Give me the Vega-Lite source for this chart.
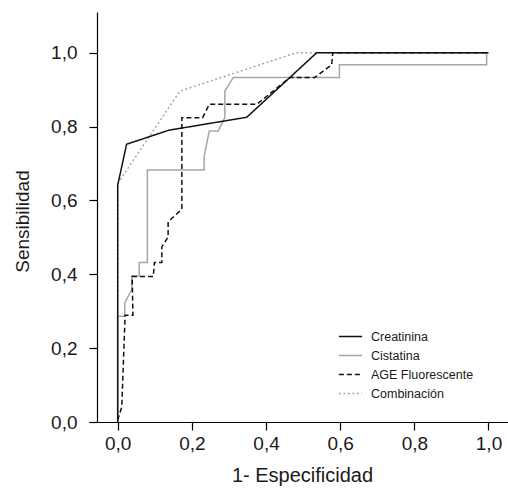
{
  "$schema": "https://vega.github.io/schema/vega-lite/v6.json",
  "width": 419,
  "height": 410,
  "autosize": "none",
  "padding": {"left": 89, "top": 12, "right": 0, "bottom": 66},
  "background": "white",
  "config": {
    "view": {"stroke": null},
    "font": "Liberation Sans",
    "axis": {
      "grid": false,
      "domainColor": "#000000",
      "domainWidth": 1.2,
      "tickColor": "#000000",
      "tickWidth": 1.2,
      "tickSize": 8,
      "labelFont": "Liberation Sans",
      "labelFontSize": 19,
      "labelColor": "#1a1a1a",
      "labelFlush": false,
      "labelOverlap": false,
      "titleFont": "Liberation Sans",
      "titleFontSize": 19,
      "titleFontWeight": "normal",
      "titleColor": "#1a1a1a"
    },
    "legend": {
      "orient": "none",
      "legendX": 249,
      "legendY": 312,
      "labelFont": "Liberation Sans",
      "labelFontSize": 12.5,
      "labelColor": "#1a1a1a",
      "symbolType": "stroke",
      "symbolSize": 540,
      "symbolStrokeWidth": 1.5,
      "labelOffset": 8,
      "rowPadding": 0,
      "padding": 0
    }
  },
  "data": {
    "values": [
      {"s": "Combinación", "i": 0, "x": 0, "y": 0},
      {"s": "Combinación", "i": 1, "x": 0, "y": 0.646},
      {"s": "Combinación", "i": 2, "x": 0.168, "y": 0.896},
      {"s": "Combinación", "i": 3, "x": 0.483, "y": 1.0},
      {"s": "Combinación", "i": 4, "x": 1.0, "y": 1.0},

      {"s": "Cistatina", "i": 0, "x": 0, "y": 0},
      {"s": "Cistatina", "i": 1, "x": 0, "y": 0.286},
      {"s": "Cistatina", "i": 2, "x": 0.019, "y": 0.286},
      {"s": "Cistatina", "i": 3, "x": 0.019, "y": 0.322},
      {"s": "Cistatina", "i": 4, "x": 0.038, "y": 0.359},
      {"s": "Cistatina", "i": 5, "x": 0.038, "y": 0.395},
      {"s": "Cistatina", "i": 6, "x": 0.058, "y": 0.395},
      {"s": "Cistatina", "i": 7, "x": 0.058, "y": 0.432},
      {"s": "Cistatina", "i": 8, "x": 0.080, "y": 0.432},
      {"s": "Cistatina", "i": 9, "x": 0.080, "y": 0.682},
      {"s": "Cistatina", "i": 10, "x": 0.233, "y": 0.682},
      {"s": "Cistatina", "i": 11, "x": 0.233, "y": 0.718},
      {"s": "Cistatina", "i": 12, "x": 0.247, "y": 0.788},
      {"s": "Cistatina", "i": 13, "x": 0.271, "y": 0.788},
      {"s": "Cistatina", "i": 14, "x": 0.289, "y": 0.824},
      {"s": "Cistatina", "i": 15, "x": 0.289, "y": 0.896},
      {"s": "Cistatina", "i": 16, "x": 0.312, "y": 0.933},
      {"s": "Cistatina", "i": 17, "x": 0.598, "y": 0.933},
      {"s": "Cistatina", "i": 18, "x": 0.598, "y": 0.967},
      {"s": "Cistatina", "i": 19, "x": 0.995, "y": 0.967},
      {"s": "Cistatina", "i": 20, "x": 0.995, "y": 1.0},

      {"s": "AGE Fluorescente", "i": 0, "x": 0, "y": 0.005},
      {"s": "AGE Fluorescente", "i": 1, "x": 0.011, "y": 0.041},
      {"s": "AGE Fluorescente", "i": 2, "x": 0.020, "y": 0.289},
      {"s": "AGE Fluorescente", "i": 3, "x": 0.041, "y": 0.289},
      {"s": "AGE Fluorescente", "i": 4, "x": 0.039, "y": 0.394},
      {"s": "AGE Fluorescente", "i": 5, "x": 0.096, "y": 0.394},
      {"s": "AGE Fluorescente", "i": 6, "x": 0.099, "y": 0.432},
      {"s": "AGE Fluorescente", "i": 7, "x": 0.119, "y": 0.432},
      {"s": "AGE Fluorescente", "i": 8, "x": 0.119, "y": 0.474},
      {"s": "AGE Fluorescente", "i": 9, "x": 0.136, "y": 0.501},
      {"s": "AGE Fluorescente", "i": 10, "x": 0.136, "y": 0.542},
      {"s": "AGE Fluorescente", "i": 11, "x": 0.173, "y": 0.576},
      {"s": "AGE Fluorescente", "i": 12, "x": 0.173, "y": 0.824},
      {"s": "AGE Fluorescente", "i": 13, "x": 0.229, "y": 0.824},
      {"s": "AGE Fluorescente", "i": 14, "x": 0.247, "y": 0.860},
      {"s": "AGE Fluorescente", "i": 15, "x": 0.375, "y": 0.860},
      {"s": "AGE Fluorescente", "i": 16, "x": 0.465, "y": 0.933},
      {"s": "AGE Fluorescente", "i": 17, "x": 0.532, "y": 0.933},
      {"s": "AGE Fluorescente", "i": 18, "x": 0.577, "y": 0.967},
      {"s": "AGE Fluorescente", "i": 19, "x": 0.580, "y": 1.0},
      {"s": "AGE Fluorescente", "i": 20, "x": 1.0, "y": 1.0},

      {"s": "Creatinina", "i": 0, "x": 0, "y": 0},
      {"s": "Creatinina", "i": 1, "x": 0, "y": 0.641},
      {"s": "Creatinina", "i": 2, "x": 0.024, "y": 0.752},
      {"s": "Creatinina", "i": 3, "x": 0.138, "y": 0.790},
      {"s": "Creatinina", "i": 4, "x": 0.348, "y": 0.825},
      {"s": "Creatinina", "i": 5, "x": 0.537, "y": 1.0},
      {"s": "Creatinina", "i": 6, "x": 1.0, "y": 1.0}
    ]
  },
  "mark": {"type": "line", "strokeWidth": 1.5, "strokeJoin": "miter"},
  "encoding": {
    "x": {
      "field": "x",
      "type": "quantitative",
      "scale": {"domain": [-0.0774, 1.0526], "nice": false, "zero": false},
      "axis": {
        "values": [0, 0.2, 0.4, 0.6, 0.8, 1.0],
        "labelExpr": "replace(format(datum.value, '.1f'), '.', ',')",
        "labelPadding": 4,
        "title": "1- Especificidad",
        "titleFontSize": 20,
        "titleX": 213,
        "titlePadding": 12
      }
    },
    "y": {
      "field": "y",
      "type": "quantitative",
      "scale": {"domain": [0, 1.11], "nice": false, "zero": false},
      "axis": {
        "values": [0, 0.2, 0.4, 0.6, 0.8, 1.0],
        "labelExpr": "replace(format(datum.value, '.1f'), '.', ',')",
        "offset": -8,
        "labelPadding": 12,
        "title": "Sensibilidad",
        "titleY": 209,
        "titlePadding": 18
      }
    },
    "order": {"field": "i", "type": "quantitative"},
    "color": {
      "field": "s",
      "type": "nominal",
      "title": null,
      "scale": {
        "domain": ["Creatinina", "Cistatina", "AGE Fluorescente", "Combinación"],
        "range": ["#111111", "#a6a6a6", "#111111", "#a6a6a6"]
      }
    },
    "strokeDash": {
      "field": "s",
      "type": "nominal",
      "title": null,
      "scale": {
        "domain": ["Creatinina", "Cistatina", "AGE Fluorescente", "Combinación"],
        "range": [[1, 0], [1, 0], [5, 3], [2, 2.5]]
      }
    }
  }
}
